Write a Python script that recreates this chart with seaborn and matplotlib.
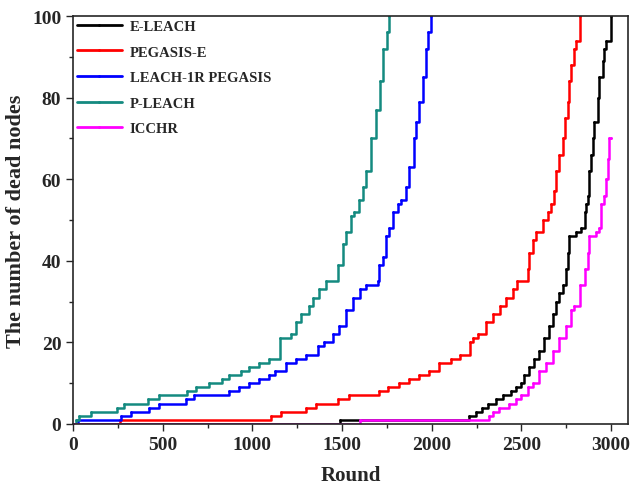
import numpy as np
import pandas as pd
import matplotlib
matplotlib.use("Agg")
import matplotlib.pyplot as plt
import seaborn as sns
from matplotlib.ticker import MultipleLocator

series_names = ["E-LEACH", "PEGASIS-E", "LEACH-1R PEGASIS", "P-LEACH", "ICCHR"]
series_colors = ["#000000", "#ff0000", "#0000ff", "#148a80", "#ff00ff"]

e_leach_rounds = [0, 1490, 2210, 2247, 2280, 2312, 2359, 2396, 2443, 2470, 2498, 2517, 2545, 2573, 2600,
                  2628, 2656, 2675, 2694, 2712, 2731, 2749, 2758, 2768, 2805, 2833, 2852, 2861, 2870,
                  2879, 2889, 2898, 2907, 2926, 2935, 2954, 2963, 2973, 3000]
e_leach_dead = [0, 1, 2, 3, 4, 5, 6, 7, 8, 9, 10, 12, 14, 16, 18,
                21, 24, 27, 30, 32, 34, 38, 42, 46, 47, 48, 52, 54, 56,
                62, 66, 70, 74, 80, 85, 89, 92, 94, 100]

pegasis_e_rounds = [0, 260, 1103, 1159, 1299, 1355, 1477, 1540, 1708, 1755, 1820, 1875, 1931, 1987, 2043,
                    2108, 2155, 2211, 2230, 2260, 2304, 2341, 2378, 2415, 2453, 2475, 2535, 2545, 2564,
                    2583, 2620, 2648, 2666, 2680, 2694, 2712, 2731, 2745, 2758, 2768, 2777, 2796, 2805,
                    2824]
pegasis_e_dead = [0, 1, 2, 3, 4, 5, 6, 7, 8, 9, 10, 11, 12, 13, 15,
                  16, 17, 20, 21, 22, 25, 27, 29, 31, 33, 35, 38, 42, 45,
                  47, 50, 52, 54, 57, 62, 66, 70, 75, 79, 84, 88, 92, 94,
                  100]

leach1r_rounds = [0, 30, 266, 322, 424, 480, 629, 675, 871, 926, 982, 1038, 1094, 1124, 1189, 1243, 1299,
                  1364, 1400, 1447, 1484, 1522, 1559, 1600, 1633, 1698, 1708, 1726, 1745, 1763, 1782,
                  1810, 1829, 1857, 1875, 1903, 1912, 1931, 1950, 1968, 1977, 1996]
leach1r_dead = [0, 1, 2, 3, 4, 5, 6, 7, 8, 9, 10, 11, 12, 13, 15, 16, 17,
                19, 20, 22, 24, 28, 31, 33, 34, 35, 39, 41, 46, 48, 52,
                54, 55, 58, 63, 70, 74, 79, 85, 92, 96, 100]

p_leach_rounds = [0, 15, 33, 99, 247, 285, 415, 480, 638, 685, 759, 833, 871, 936, 982, 1038, 1094,
                  1155, 1215, 1243, 1270, 1317, 1336, 1373, 1410, 1475, 1503, 1522, 1550, 1568, 1596,
                  1615, 1633, 1661, 1689, 1713, 1726, 1749, 1763]
p_leach_dead = [0, 1, 2, 3, 4, 5, 6, 7, 8, 9, 10, 11, 12, 13, 14, 15, 16,
                21, 22, 25, 27, 29, 31, 33, 35, 39, 44, 47, 51, 52, 55,
                58, 62, 70, 77, 84, 92, 96, 100]

icchr_rounds = [0, 1600, 2321, 2340, 2377, 2433, 2470, 2498, 2535, 2563, 2600, 2638, 2675, 2712, 2749,
                2777, 2796, 2824, 2852, 2870, 2879, 2917, 2935, 2944, 2963, 2973, 2982, 2991, 3000]
icchr_dead = [0, 1, 2, 3, 4, 5, 6, 7, 9, 10, 13, 15, 18, 21, 24,
              28, 29, 34, 38, 42, 46, 47, 48, 54, 56, 60, 65, 70, 70]

x_ticks = [0, 500, 1000, 1500, 2000, 2500, 3000]
y_ticks = [0, 20, 40, 60, 80, 100]

all_rounds = [e_leach_rounds, pegasis_e_rounds, leach1r_rounds, p_leach_rounds, icchr_rounds]
all_dead = [e_leach_dead, pegasis_e_dead, leach1r_dead, p_leach_dead, icchr_dead]

frames = []
for name, r, d in zip(series_names, all_rounds, all_dead):
    frames.append(pd.DataFrame({"Round": r, "Dead": d, "Protocol": name}))
df = pd.concat(frames, ignore_index=True)

sns.set_style("ticks")
plt.rcParams["font.family"] = ["Liberation Serif", "DejaVu Serif"]
plt.rcParams["font.weight"] = "bold"

fig = plt.figure(figsize=(6.30, 4.89), dpi=100)
ax = fig.add_axes([0.116, 0.131, 0.881, 0.834])

sns.lineplot(data=df, x="Round", y="Dead", hue="Protocol", hue_order=series_names,
             palette=dict(zip(series_names, series_colors)), drawstyle="steps-post",
             estimator=None, sort=False, linewidth=1.8, marker="o", markersize=2,
             markeredgewidth=0, ax=ax)

ax.set_xlim(0, 3095)
ax.set_ylim(0, 100)
ax.set_xticks(x_ticks)
ax.set_yticks(y_ticks)
ax.xaxis.set_minor_locator(MultipleLocator(250))
ax.yaxis.set_minor_locator(MultipleLocator(10))
ax.tick_params(axis="both", which="major", direction="out", length=5, width=1, labelsize=14)
ax.tick_params(axis="both", which="minor", direction="out", length=3, width=1)
for lab in ax.get_xticklabels() + ax.get_yticklabels():
    lab.set_fontweight("bold")
for sp in ax.spines.values():
    sp.set_visible(True)
    sp.set_linewidth(1.2)

ax.set_xlabel("Round", fontsize=15, fontweight="bold", labelpad=9)
ax.set_ylabel("The number of dead nodes", fontsize=16, fontweight="bold", labelpad=4)

leg = ax.legend(loc="upper left", frameon=False, handlelength=3.1,
                borderaxespad=0.1, borderpad=0.15, labelspacing=0.85, handletextpad=0.55,
                prop={"weight": "bold", "size": 10.5})
for line in leg.get_lines():
    line.set_linewidth(2)

fig.savefig("out.png", dpi=100)
